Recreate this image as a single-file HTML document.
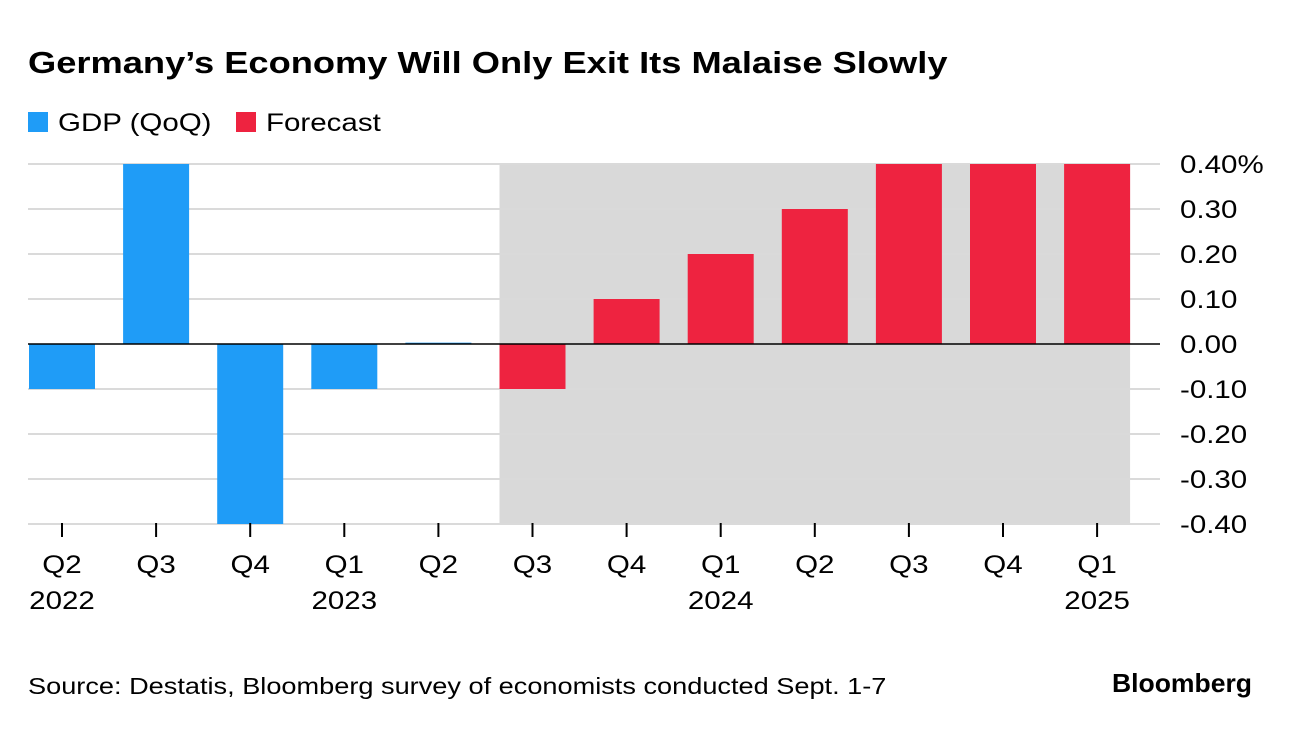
<!DOCTYPE html>
<html><head><meta charset="utf-8"><style>
body{margin:0;background:#fff;font-family:"Liberation Sans",sans-serif;}
</style></head><body>
<svg id="svg" width="1292" height="726" xmlns="http://www.w3.org/2000/svg" font-family="Liberation Sans, sans-serif">
<text x="28" y="73" font-size="31" font-weight="bold" fill="#000" data-f="1.17">Germany’s Economy Will Only Exit Its Malaise Slowly</text>
<g>
<rect x="28" y="112" width="20" height="20" fill="#1f9cf7"/>
<text x="58" y="131" font-size="25" fill="#000" data-f="1.18">GDP (QoQ)</text>
<rect x="236" y="112" width="20" height="20" fill="#ee2340"/>
<text x="266" y="131" font-size="25" fill="#000" data-f="1.18">Forecast</text>
</g>
<g id="plot"></g>
<text x="28" y="694" font-size="23" fill="#000" data-f="1.18">Source: Destatis, Bloomberg survey of economists conducted Sept. 1-7</text>
<text x="1252" y="692" font-size="26" font-weight="bold" fill="#000" text-anchor="end" data-f="1.02">Bloomberg</text>
</svg>
<script>
const quarters=["Q2","Q3","Q4","Q1","Q2","Q3","Q4","Q1","Q2","Q3","Q4","Q1"];
const years=["2022","","","2023","","","","2024","","","","2025"];
const values=[-0.1,0.4,-0.4,-0.1,0.003,-0.1,0.1,0.2,0.3,0.4,0.4,0.4];
const isForecast=[false,false,false,false,false,true,true,true,true,true,true,true];
const yTicks=[0.4,0.3,0.2,0.1,0,-0.1,-0.2,-0.3,-0.4];
const yTickLabels=["0.40%","0.30","0.20","0.10","0.00","-0.10","-0.20","-0.30","-0.40"];
const NS="http://www.w3.org/2000/svg";
const g=document.getElementById('plot');
const y=v=>344-v*450;
const step=94.1, x0=62;
const x=i=>x0+i*step;
const bw=66;
function mk(t,a){const e=document.createElementNS(NS,t);for(const k in a)e.setAttribute(k,a[k]);g.appendChild(e);return e;}
const fi=isForecast.indexOf(true);
let sh=mk('rect',{x:x(fi)-33,y:y(0.4),width:x(11)+33-(x(fi)-33),height:y(-0.4)-y(0.4),fill:'#d9d9d9'});


yTicks.forEach((t,i)=>{
  if(t!==0){const l=mk('line',{x1:28,x2:1160,y1:y(t),y2:y(t),stroke:'#dadada','stroke-width':2});
  
  }
  const tx=mk('text',{x:1180,y:y(t)+9,'font-size':25,fill:'#000','data-f':1.18});tx.textContent=yTickLabels[i];
  
  
});
values.forEach((v,i)=>{
  const top=Math.min(y(v),y(0)), h=Math.max(Math.abs(y(v)-y(0)),1.5);
  const r=mk('rect',{x:x(i)-bw/2,y:top,width:bw,height:h,fill:isForecast[i]?'#ee2340':'#1f9cf7'});
  
  
  const tk=mk('line',{x1:x(i),x2:x(i),y1:523,y2:537,stroke:'#000','stroke-width':2});
  
  
  const q=mk('text',{x:x(i),y:573,'font-size':25,'text-anchor':'middle',fill:'#000','data-f':1.18});q.textContent=quarters[i];
  
  
  if(years[i]){const yr=mk('text',{x:x(i),y:609,'font-size':25,'text-anchor':'middle',fill:'#000','data-f':1.18});yr.textContent=years[i];
  
  }
});
const z=mk('line',{x1:28,x2:1160,y1:y(0),y2:y(0),stroke:'#000','stroke-width':1.5});


document.querySelectorAll('text[data-f]').forEach(t=>{
  const f=parseFloat(t.getAttribute('data-f'));
  const L=t.getComputedTextLength();
  t.setAttribute('textLength',(L*f).toFixed(1));
  t.setAttribute('lengthAdjust','spacingAndGlyphs');
});
</script>
</body></html>
